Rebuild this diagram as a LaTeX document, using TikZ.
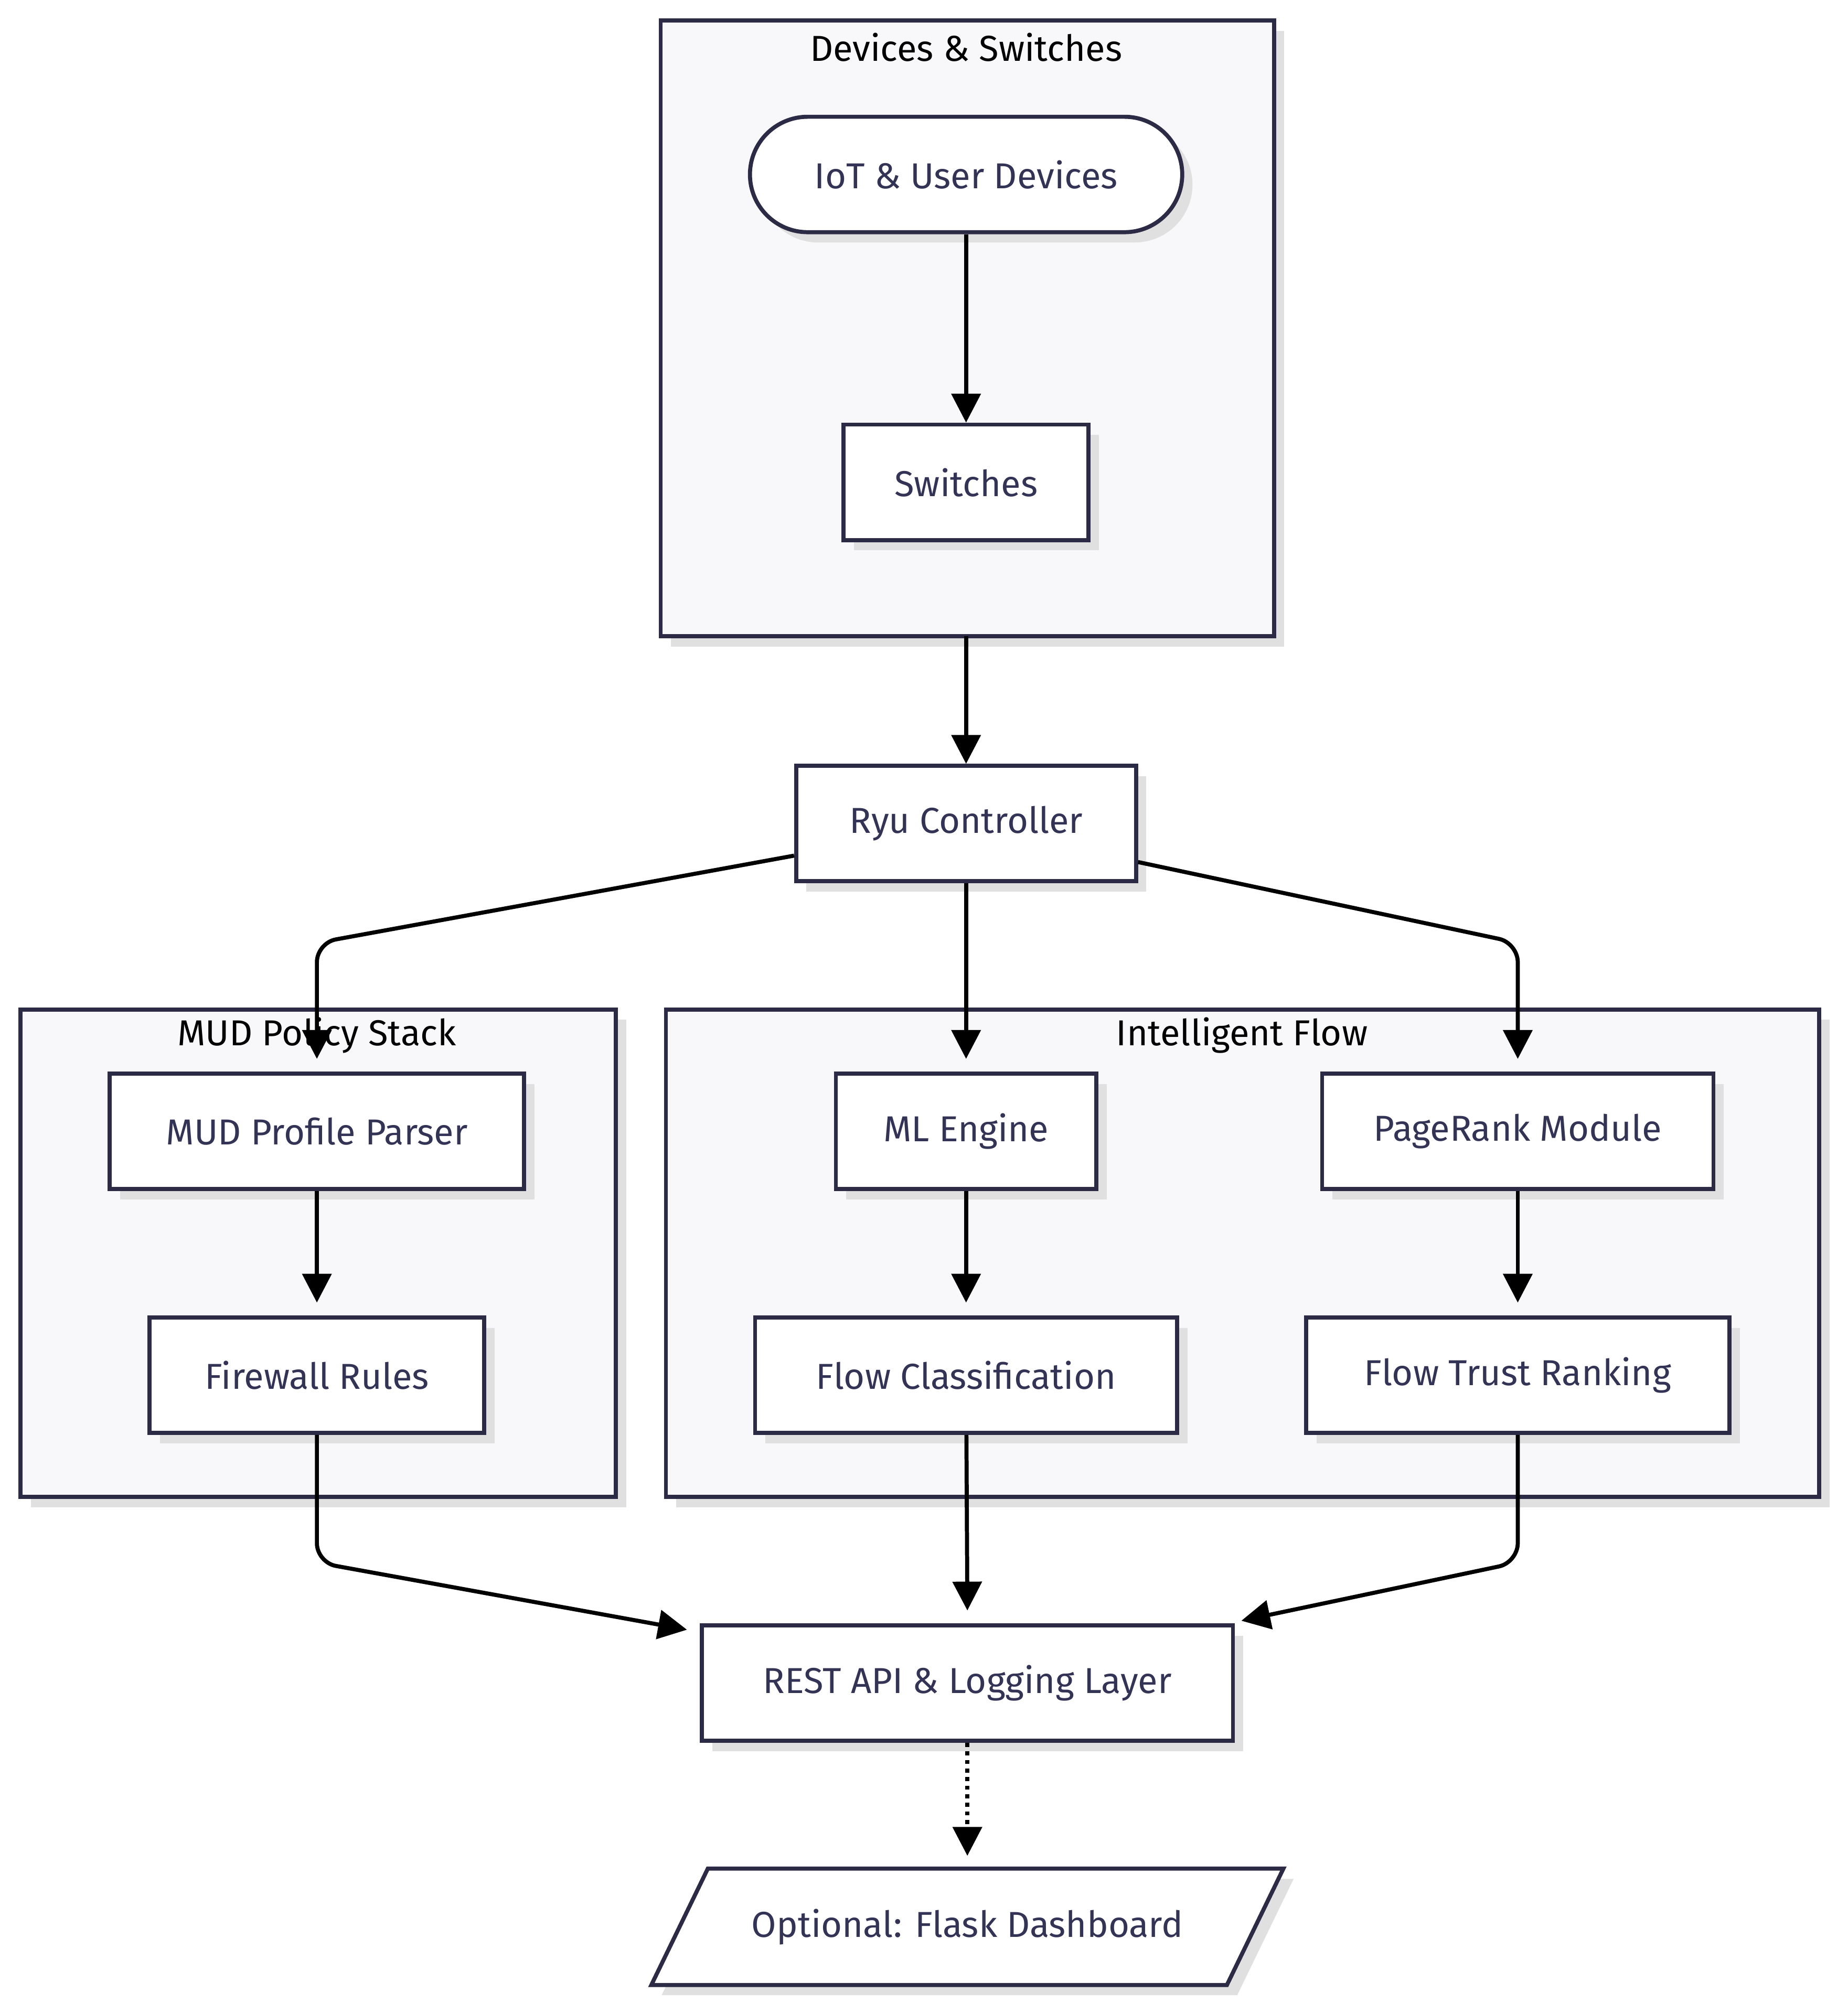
\documentclass[tikz,border=0pt]{standalone}
\usepackage{fontspec}
\setmainfont{Fira Sans}
\usetikzlibrary{arrows.meta,shadows}
\definecolor{edgeink}{HTML}{2B2B45}
\definecolor{textink}{HTML}{333355}
\definecolor{clusterfill}{HTML}{F8F8FA}
\tikzset{
  shade box/.style={drop shadow={shadow xshift=0.16cm,shadow yshift=-0.16cm,fill=black!12,opacity=1}},
  cluster/.style={draw=edgeink,line width=1.8pt,fill=clusterfill,shade box,inner sep=0pt},
  box/.style={draw=edgeink,line width=1.8pt,fill=white,shade box,minimum height=1.8cm,inner sep=0pt,text=textink},
  title/.style={text=black},
  flow/.style={-{Triangle[length=0.45cm,width=0.45cm]},line width=1.8pt,rounded corners=0.3cm},
}
\begin{document}
\begin{tikzpicture}[x=0.02cm,y=-0.02cm,font=\fontsize{16}{19}\selectfont]
  \useasboundingbox (0,0) rectangle (1440,1570);
  % clusters
  \draw[cluster] (515,16) rectangle (993,496);
  \node[title] (devT) at (753,37) {Devices \& Switches};
  \draw[cluster] (16,787) rectangle (480,1167);
  \node[title] (mudT) at (247,807) {MUD Policy Stack};
  \draw[cluster] (519,787) rectangle (1418,1167);
  \node[title] (intT) at (968,807) {Intelligent Flow};
  % nodes
  \node[box,rounded corners=0.9cm,minimum width=6.74cm] (iot) at (753,136) {IoT \& User Devices};
  \node[box,minimum width=3.82cm] (sw) at (753,376) {Switches};
  \node[box,minimum width=5.3cm] (ryu) at (753,642) {Ryu Controller};
  \node[box,minimum width=6.46cm] (parser) at (247,882) {MUD Profile Parser};
  \node[box,minimum width=5.22cm] (fw) at (247,1072) {Firewall Rules};
  \node[box,minimum width=4.06cm] (ml) at (753,882) {ML Engine};
  \node[box,minimum width=6.58cm] (fc) at (753,1072) {Flow Classification};
  \node[box,minimum width=6.1cm] (pr) at (1183,882) {PageRank Module};
  \node[box,minimum width=6.6cm] (ftr) at (1183,1072) {Flow Trust Ranking};
  \node[box,minimum width=8.28cm] (rest) at (754,1312) {REST API \& Logging Layer};
  % parallelogram drawn round a plain node
  \node[minimum width=9.84cm,minimum height=1.8cm,inner sep=0pt] (flask) at (754,1502) {};
  \draw[box] ([xshift=0.88cm]flask.north west) -- (flask.north east)
    -- ([xshift=-0.88cm]flask.south east) -- (flask.south west) -- cycle;
  \node[text=textink] at (flask) {Optional: Flask Dashboard};
  % connectors
  \draw[flow] (iot) -- (sw);
  \draw[flow] (sw |- 0,496) -- (ryu);
  \draw[flow] (ryu.west |- 0,667) -- (247,735) -- ([yshift=0.2cm]parser.north);
  \draw[flow] (ryu) -- ([yshift=0.2cm]ml.north);
  \draw[flow] (ryu.east |- 0,672) -- (1183,735) -- ([yshift=0.2cm]pr.north);
  \draw[flow] (parser) -- ([yshift=0.2cm]fw.north);
  \draw[flow] (ml) -- ([yshift=0.2cm]fc.north);
  \draw[flow] (pr) -- ([yshift=0.2cm]ftr.north);
  \draw[flow] (fw) -- (247,1218) -- ([xshift=-0.2cm,yshift=-0.1cm]rest.north west);
  \draw[flow] (fc) -- ([yshift=0.2cm]rest.north);
  \draw[flow] (ftr) -- (1183,1218) -- ([xshift=0.1cm,yshift=0.04cm]rest.north east);
  \draw[flow,dotted] (rest) -- ([yshift=0.2cm]flask.north);
\end{tikzpicture}
\end{document}
